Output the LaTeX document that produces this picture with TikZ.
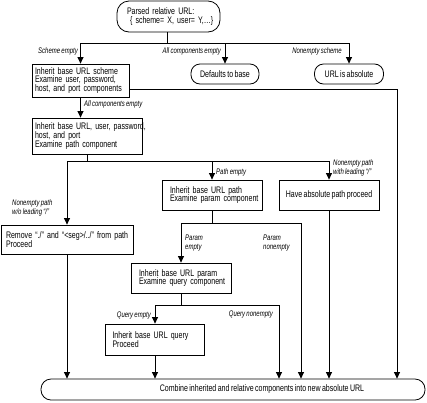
\documentclass[tikz,border=0pt]{standalone}
\usepackage{fontspec}
\setmainfont{Liberation Sans}[FakeStretch=0.74,WordSpace=0.75]
\usetikzlibrary{arrows.meta}
\hyphenpenalty=10000
\exhyphenpenalty=10000
\begin{document}
\begin{tikzpicture}[x=1pt,y=-1pt,
  every node/.style={inner sep=0pt},
  boxnode/.style={draw,line width=0.8pt,font=\fontsize{9.5}{8.9}\selectfont,align=left,anchor=center},
  roundnode/.style={boxnode,rounded corners=9pt,align=center},
  lab/.style={font=\fontsize{8.1}{8.8}\selectfont\itshape,align=left},
  ln/.style={line width=1pt},
  arr/.style={line width=1pt,-{Triangle[width=6pt,length=6.5pt]}}]
\useasboundingbox (0,0) rectangle (427,402);
% nodes
\node[boxnode,rounded corners=12pt,minimum width=103pt,minimum height=31pt,text width=83pt] (top) at (168.5,16.5)
  {\mbox{Parsed relative URL:}\\[1pt]\mbox{\hspace*{3pt}\{ scheme= X, user= Y,…\}}};
\node[boxnode,minimum width=97pt,minimum height=33pt,text width=91pt] (b1) at (80.5,80.5)
  {\mbox{Inherit base URL scheme}\\\mbox{Examine user, password,}\\\mbox{host, and port components}};
\node[roundnode,minimum width=68pt,minimum height=20pt] (def) at (225,74) {Defaults to base};
\node[roundnode,minimum width=69pt,minimum height=20pt] (abs) at (349,74) {URL is absolute};
\node[boxnode,minimum width=110pt,minimum height=36pt,text width=104pt] (b2) at (87,136)
  {\mbox{Inherit base URL, user, password,}\\\mbox{host, and port}\\\mbox{Examine path component}};
\node[boxnode,minimum width=100pt,minimum height=30pt,text width=84pt] (path) at (212,195)
  {\mbox{Inherit base URL path}\\\mbox{Examine param component}};
\node[boxnode,minimum width=100pt,minimum height=30pt,align=center] (have) at (329,195)
  {Have absolute path proceed};
\node[boxnode,minimum width=132pt,minimum height=29pt,text width=122pt] (rem) at (67,239.5)
  {\mbox{Remove “./” and “<seg>/../” from path}\\\mbox{Proceed}};
\node[boxnode,minimum width=100pt,minimum height=30pt,text width=84pt] (param) at (181,278)
  {\mbox{Inherit base URL param}\\\mbox{Examine query component}};
\node[boxnode,minimum width=99pt,minimum height=31pt,text width=85pt] (query) at (155,339.5)
  {\mbox{Inherit base URL query}\\\mbox{Proceed}};
\node[roundnode,rounded corners=10pt,minimum width=384pt,minimum height=21pt] (bot) at (233,389.5)
  {\hspace*{58pt}Combine inherited and relative components into new absolute URL};
% junction coordinates
\coordinate (j1) at (167,43);
\coordinate (j2) at (87,161);
\coordinate (j3) at (212,223);
\coordinate (j4) at (181,305);
\coordinate (c1) at (397,89);
% connectors
\draw[ln] (j1 |- top.south) -- (j1);
\draw[arr] (j1) -| (b1.north);
\draw[arr] (j1) -| (def.north);
\draw[arr] (j1) -| (abs.north);
\draw[arr] (b1.south) -- (b2.north -| b1.south);
\draw[arr] (b1.east |- c1) -| (bot.north -| c1);
\draw[ln] (b2.south) -- (j2);
\draw[arr] (j2) -| (rem.north);
\draw[arr] (j2) -| (path.north);
\draw[arr] (j2) -| (have.north);
\draw[ln] (path.south) -- (j3);
\draw[arr] (j3) -| (param.north);
\coordinate (c2) at (301,223);
\draw[arr] (j3) -- (c2) -- (bot.north -| c2);
\draw[ln] (param.south) -- (j4);
\draw[arr] (j4) -| (query.north);
\coordinate (c3) at (279,305);
\draw[arr] (j4) -- (c3) -- (bot.north -| c3);
\draw[arr] (query.south) -- (bot.north -| query.south);
\draw[arr] (rem.south) -- (bot.north -| rem.south);
\draw[arr] (have.south) -- (bot.north -| have.south);
% labels
\node[lab,anchor=east] (l1) at (78,51) {Scheme empty};
\node[lab,anchor=east] (l2) at (221,51) {All components empty};
\node[lab,anchor=east] (l3) at (342,51) {Nonempty scheme};
\node[lab,anchor=west] (l4) at (84,104) {All components empty};
\node[lab,anchor=west] (l5) at (216,172) {Path empty};
\node[lab,anchor=west] (l6) at (333,168) {Nonempty path\\with leading “/”};
\node[lab,anchor=west] (l7) at (12,208) {Nonempty path\\w/o leading “/”};
\node[lab,anchor=west] (l8) at (185,243) {Param\\empty};
\node[lab,anchor=west] (l9) at (263,243) {Param\\nonempty};
\node[lab,anchor=east] (l10) at (151,316) {Query empty};
\node[lab,anchor=east] (l11) at (273,315) {Query nonempty};
\end{tikzpicture}
\end{document}
